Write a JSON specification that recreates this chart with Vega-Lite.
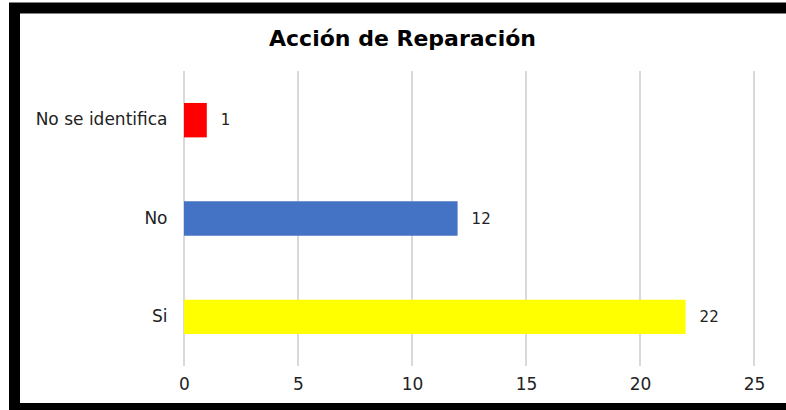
{
  "$schema": "https://vega.github.io/schema/vega-lite/v6.json",
  "width": 786,
  "height": 400.5,
  "autosize": {"type": "none"},
  "padding": {"left": 14.5, "top": 8, "right": 0, "bottom": 1.5},
  "background": "white",
  "config": {
    "view": {"stroke": "black", "strokeWidth": 11},
    "font": "DejaVu Sans"
  },
  "title": {
    "text": "Acción de Reparación",
    "font": "DejaVu Sans",
    "fontSize": 22,
    "fontWeight": "bold",
    "color": "black",
    "anchor": "middle",
    "frame": "group",
    "baseline": "alphabetic",
    "offset": -60,
    "dx": -5
  },
  "datasets": {
    "resp": [
      {"cat": "No se identifica", "n": 1},
      {"cat": "No", "n": 12},
      {"cat": "Si", "n": 22}
    ],
    "ticks": [{"v": 0}, {"v": 5}, {"v": 10}, {"v": 15}, {"v": 20}, {"v": 25}]
  },
  "layer": [
    {
      "data": {"name": "ticks"},
      "mark": {"type": "rule", "color": "#d9d9d9", "strokeWidth": 2},
      "encoding": {
        "x": {
          "field": "v",
          "type": "quantitative",
          "scale": {"domain": [0, 25], "range": [169.5, 739.5], "nice": false, "zero": false},
          "axis": {
            "orient": "bottom",
            "values": [0, 5, 10, 15, 20, 25],
            "title": null,
            "grid": false,
            "domain": false,
            "ticks": false,
            "offset": -24.5,
            "labelPadding": 0,
            "labelBaseline": "middle",
            "labelFontSize": 17,
            "labelFont": "DejaVu Sans",
            "labelColor": "#222222",
            "labelFlush": false
          }
        },
        "y": {"datum": 0, "type": "quantitative", "scale": {"domain": [0, 1], "range": [358, 63]}, "axis": null},
        "y2": {"datum": 1}
      }
    },
    {
      "data": {"name": "resp"},
      "encoding": {
        "y": {
          "field": "cat",
          "type": "nominal",
          "sort": ["No se identifica", "No", "Si"],
          "scale": {"range": [63, 358], "paddingInner": 0.65, "paddingOuter": 0.325},
          "axis": {
            "title": null,
            "domain": false,
            "ticks": false,
            "grid": false,
            "labelPadding": -152.5,
            "labelAlign": "right",
            "labelBaseline": "middle",
            "labelFontSize": 17,
            "labelFont": "DejaVu Sans",
            "labelColor": "#222222",
            "labelLimit": 300
          }
        }
      },
      "layer": [
        {
          "mark": {"type": "bar"},
          "encoding": {
            "x": {"field": "n", "type": "quantitative"},
            "color": {
              "field": "cat",
              "type": "nominal",
              "scale": {"domain": ["No se identifica", "No", "Si"], "range": ["#ff0000", "#4472c4", "#ffff00"]},
              "legend": null
            }
          }
        },
        {
          "mark": {"type": "text", "align": "left", "dx": 14, "baseline": "middle", "fontSize": 15, "color": "#222222", "font": "DejaVu Sans"},
          "encoding": {
            "x": {"field": "n", "type": "quantitative"},
            "text": {"field": "n", "type": "quantitative"}
          }
        }
      ]
    }
  ],
  "resolve": {"scale": {"y": "independent"}, "axis": {"y": "independent"}}
}
